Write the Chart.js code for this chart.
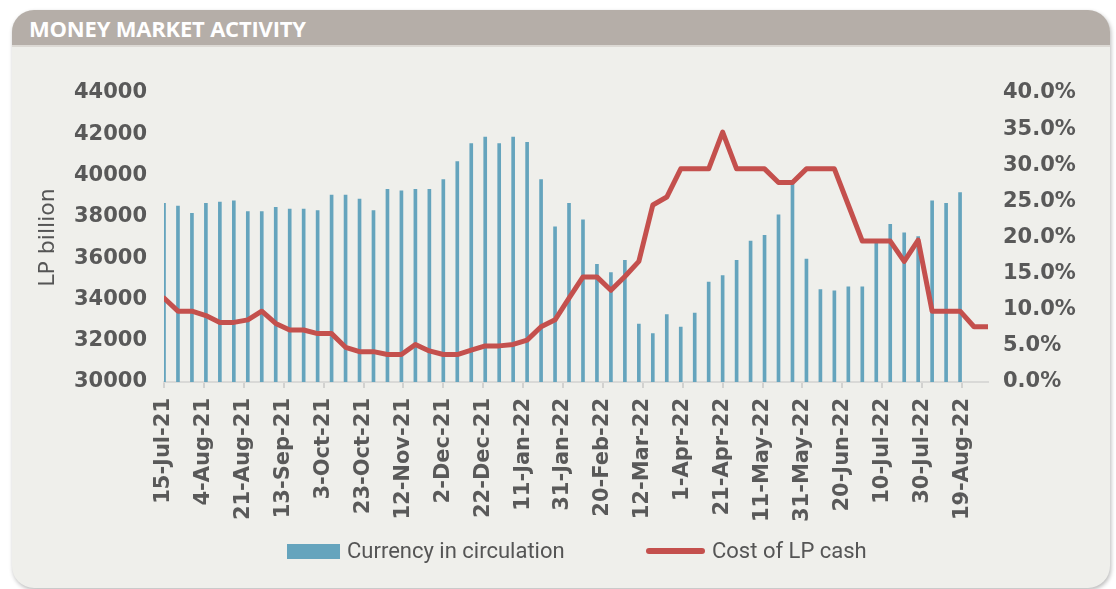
<!DOCTYPE html>
<html>
<head>
<meta charset="utf-8">
<title>Money market activity</title>
<script src="https://cdn.jsdelivr.net/npm/chart.js@4/dist/chart.umd.min.js"></script>
<style>
    html, body { margin: 0; padding: 0; background: #ffffff; }
    #page { position: relative; width: 1116px; height: 589px; overflow: hidden; }
    #panel {
        position: absolute; left: 12px; top: 10px; width: 1098px; height: 578px;
        background: #efefeb; border-radius: 22px; overflow: hidden;
        box-shadow: 1px 2px 4px rgba(0, 0, 0, 0.28);
    }
    #header { height: 35px; background: #b5aea8; border-bottom: 2px solid #dcd9d4; }
    #title {
        position: absolute; left: 17px; top: 3px; color: #ffffff;
        font: 700 22px "Open Sans", sans-serif; letter-spacing: -0.2px;
    }
    #chartBox { position: absolute; left: 0; top: 0; width: 1116px; height: 589px; }
    .lg { position: absolute; }
    .lgText { font: 400 22px Roboto, sans-serif; color: #555555; line-height: 26px; top: 538px; }
</style>
</head>
<body>
<div id="page">
    <div id="panel">
        <div id="header"></div>
        <div id="title">MONEY MARKET ACTIVITY</div>
    </div>
    <div id="chartBox"><canvas id="moneyChart" width="1116" height="589"></canvas></div>
    <div class="lg" style="left:287px; top:544px; width:53px; height:15px; background:#65a4bd;"></div>
    <div class="lg lgText" style="left:347px;">Currency in circulation</div>
    <div class="lg" style="left:646px; top:548px; width:59px; height:6px; border-radius:3px; background:#c4504d;"></div>
    <div class="lg lgText" style="left:712px;">Cost of LP cash</div>
</div>
<script>
// Wochenwerte ab 15-Jul-21 (Tage seit Start = Woche * 7)

// Achsenbeschriftung unten (alle 20 Tage)
const tickLabels = ["15-Jul-21", "4-Aug-21", "21-Aug-21", "13-Sep-21", "3-Oct-21", "23-Oct-21",
    "12-Nov-21", "2-Dec-21", "22-Dec-21", "11-Jan-22", "31-Jan-22", "20-Feb-22", "12-Mar-22",
    "1-Apr-22", "21-Apr-22", "11-May-22", "31-May-22", "20-Jun-22", "10-Jul-22", "30-Jul-22",
    "19-Aug-22"];

// Currency in circulation (LP billion)
const circulation = [38650, 38520, 38170, 38650, 38715, 38780, 38250, 38250, 38460, 38380,
    38380, 38310, 39050, 39050, 38860, 38310, 39330, 39260, 39330, 39330,
    39810, 40680, 41550, 41870, 41550, 41870, 41610, 39810, 37520, 38650,
    37850, 35700, 35300, 35900, 32810, 32340, 33270, 32660, 33340, 34840,
    35160, 35900, 36830, 37100, 38100, 39700, 35960, 34480, 34420, 34610,
    34610, 36800, 37640, 37230, 37040, 38780, 38650, 39180];

// Cost of LP cash (%)
const lpCost = [11.6, 9.8, 9.8, 9.2, 8.25, 8.25, 8.6, 9.8, 8.1, 7.2,
    7.2, 6.7, 6.7, 4.8, 4.2, 4.2, 3.8, 3.8, 5.2, 4.3,
    3.8, 3.8, 4.4, 5.0, 5.0, 5.2, 5.8, 7.65, 8.6, 11.6,
    14.55, 14.55, 12.7, 14.6, 16.7, 24.5, 25.6, 29.5, 29.5, 29.5,
    34.6, 29.5, 29.5, 29.5, 27.6, 27.6, 29.5, 29.5, 29.5, 24.5,
    19.5, 19.5, 19.5, 16.7, 19.65, 9.8, 9.8, 9.8, 7.65, 7.65];

const leftTicks = [30000, 32000, 34000, 36000, 38000, 40000, 42000, 44000];
const rightTicks = [0, 5, 10, 15, 20, 25, 30, 35, 40];

const tickFont = {family: "'DejaVu Sans'", size: 21, weight: 'bold'};
const tickColor = '#595959';

const barPoints = circulation.map((v, i) => ({x: i * 7, y: v}));
const linePoints = lpCost.map((v, i) => ({x: i * 7, y: v}));

const ctx = document.getElementById("moneyChart");
const moneyChart = new Chart(ctx, {
    type: 'bar',
    data: {
        datasets: [{
            type: 'line',
            label: 'Cost of LP cash',
            data: linePoints,
            yAxisID: 'y1',
            borderColor: '#c4504d',
            borderWidth: 5,
            borderJoinStyle: 'round',
            borderCapStyle: 'round',
            pointRadius: 0,
            tension: 0,
            order: 0
        }, {
            label: 'Currency in circulation',
            data: barPoints,
            yAxisID: 'y',
            backgroundColor: '#65a4bd',
            barThickness: 3,
            order: 1
        }]
    },
    options: {
        responsive: false,
        animation: false,
        layout: {padding: {top: 93, left: 0, right: 0, bottom: 0}},
        plugins: {
            legend: {display: false},
            tooltip: {enabled: false}
        },
        scales: {
            x: {
                type: 'linear',
                min: 0,
                max: (lpCost.length - 1) * 7,
                offset: false,
                grid: {offset: false, drawOnChartArea: false, drawTicks: true, tickLength: 6, color: '#d2d2d0', lineWidth: 2},
                border: {display: true, color: '#d9d9d7', width: 2},
                afterBuildTicks: (scale) => {
                    scale.ticks = tickLabels.map((l, i) => ({value: i * 20}));
                },
                afterFit: (scale) => { scale.height = 589 - 382; },
                ticks: {
                    autoSkip: false,
                    minRotation: 90,
                    maxRotation: 90,
                    padding: 10,
                    color: tickColor,
                    font: tickFont,
                    callback: (v, i) => tickLabels[i]
                }
            },
            y: {
                position: 'left',
                min: 30000,
                max: 44000,
                grid: {display: false, drawTicks: false},
                border: {display: false},
                afterBuildTicks: (scale) => {
                    scale.ticks = leftTicks.map(v => ({value: v}));
                },
                afterFit: (scale) => { scale.width = 164; },
                ticks: {
                    padding: 17,
                    color: tickColor,
                    font: tickFont,
                    callback: (v) => String(v)
                },
                title: {
                    display: true,
                    text: 'LP billion',
                    color: '#555555',
                    font: {family: "'DejaVu Sans'", size: 22},
                    padding: {top: 35, bottom: 0}
                }
            },
            y1: {
                position: 'right',
                min: 0,
                max: 40,
                grid: {display: false, drawTicks: false},
                border: {display: false},
                afterBuildTicks: (scale) => {
                    scale.ticks = rightTicks.map(v => ({value: v}));
                },
                afterFit: (scale) => { scale.width = 1116 - 988; },
                ticks: {
                    padding: 15,
                    color: tickColor,
                    font: tickFont,
                    callback: (v) => v.toFixed(1) + '%'
                }
            }
        }
    }
});
</script>
</body>
</html>
